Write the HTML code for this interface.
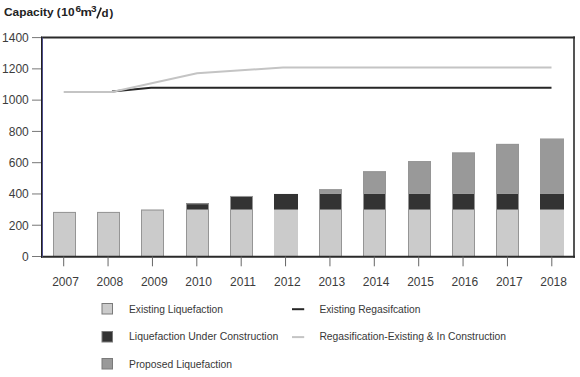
<!DOCTYPE html>
<html><head><meta charset="utf-8"><style>
html,body{margin:0;padding:0;background:#fff;width:580px;height:377px;overflow:hidden}
svg{display:block}
.t{font-family:"Liberation Sans",sans-serif;font-size:11.5px;fill:#383838}
.n{font-family:"Liberation Sans",sans-serif;font-size:12px;fill:#3c3c3c}
.title{font-family:"Liberation Sans",sans-serif;font-size:11.5px;font-weight:bold;fill:#222}
</style></head><body>
<svg width="580" height="377" viewBox="0 0 580 377">
<rect x="53.00" y="211.94" width="23.00" height="44.56" fill="#cbcbcb"/>
<rect x="53.50" y="212.44" width="22.00" height="44.06" fill="none" stroke="#959595" stroke-width="1"/>
<rect x="97.00" y="211.94" width="23.00" height="44.56" fill="#cbcbcb"/>
<rect x="97.50" y="212.44" width="22.00" height="44.06" fill="none" stroke="#959595" stroke-width="1"/>
<rect x="141.00" y="209.59" width="23.00" height="46.91" fill="#cbcbcb"/>
<rect x="141.50" y="210.09" width="22.00" height="46.41" fill="none" stroke="#959595" stroke-width="1"/>
<rect x="186.00" y="209.59" width="23.00" height="46.91" fill="#cbcbcb"/>
<rect x="186.00" y="203.34" width="23.00" height="6.25" fill="#333333"/>
<rect x="186.50" y="203.84" width="22.00" height="52.66" fill="none" stroke="#959595" stroke-width="1"/>
<rect x="230.00" y="209.59" width="23.00" height="46.91" fill="#cbcbcb"/>
<rect x="230.00" y="195.99" width="23.00" height="13.60" fill="#333333"/>
<rect x="230.50" y="196.49" width="22.00" height="60.01" fill="none" stroke="#959595" stroke-width="1"/>
<rect x="274.00" y="209.59" width="24.00" height="46.91" fill="#cbcbcb"/>
<rect x="274.00" y="193.96" width="24.00" height="15.64" fill="#333333"/>
<rect x="319.00" y="209.59" width="23.00" height="46.91" fill="#cbcbcb"/>
<rect x="319.00" y="193.96" width="23.00" height="15.64" fill="#333333"/>
<rect x="319.00" y="189.27" width="23.00" height="4.69" fill="#999999"/>
<rect x="319.50" y="189.77" width="22.00" height="66.73" fill="none" stroke="#959595" stroke-width="1"/>
<rect x="363.00" y="209.59" width="23.00" height="46.91" fill="#cbcbcb"/>
<rect x="363.00" y="193.96" width="23.00" height="15.64" fill="#333333"/>
<rect x="363.00" y="171.29" width="23.00" height="22.67" fill="#999999"/>
<rect x="363.50" y="171.79" width="22.00" height="84.71" fill="none" stroke="#959595" stroke-width="1"/>
<rect x="408.00" y="209.59" width="23.00" height="46.91" fill="#cbcbcb"/>
<rect x="408.00" y="193.96" width="23.00" height="15.64" fill="#333333"/>
<rect x="408.00" y="161.12" width="23.00" height="32.84" fill="#999999"/>
<rect x="408.50" y="161.62" width="22.00" height="94.88" fill="none" stroke="#959595" stroke-width="1"/>
<rect x="452.00" y="209.59" width="23.00" height="46.91" fill="#cbcbcb"/>
<rect x="452.00" y="193.96" width="23.00" height="15.64" fill="#333333"/>
<rect x="452.00" y="152.52" width="23.00" height="41.43" fill="#999999"/>
<rect x="452.50" y="153.02" width="22.00" height="103.48" fill="none" stroke="#959595" stroke-width="1"/>
<rect x="496.00" y="209.59" width="23.00" height="46.91" fill="#cbcbcb"/>
<rect x="496.00" y="193.96" width="23.00" height="15.64" fill="#333333"/>
<rect x="496.00" y="143.92" width="23.00" height="50.03" fill="#999999"/>
<rect x="496.50" y="144.42" width="22.00" height="112.08" fill="none" stroke="#959595" stroke-width="1"/>
<rect x="540.00" y="209.59" width="24.00" height="46.91" fill="#cbcbcb"/>
<rect x="540.00" y="193.96" width="24.00" height="15.64" fill="#333333"/>
<rect x="540.00" y="138.45" width="24.00" height="55.51" fill="#999999"/>
<polyline points="112,91.6 151,87.7 551.5,87.7" fill="none" stroke="#262626" stroke-width="2"/>
<polyline points="63.7,91.9 112,91.9 197,73.2 283,67.6 551.5,67.6" fill="none" stroke="#c4c4c4" stroke-width="2"/>
<path d="M574,36.60 V257.80" fill="none" stroke="#555" stroke-width="2"/>
<path d="M41,37.60 H575 M41,256.8 H575" fill="none" stroke="#2a2a2a" stroke-width="2"/>
<rect x="41" y="36.60" width="1" height="221.20" fill="#222"/>
<rect x="42" y="37.60" width="1" height="219.20" fill="#4c4c8a"/>
<line x1="32" y1="256.50" x2="41" y2="256.50" stroke="#777" stroke-width="1"/>
<text x="28.8" y="261.20" text-anchor="end" class="n">0</text>
<line x1="32" y1="225.23" x2="41" y2="225.23" stroke="#777" stroke-width="1"/>
<text x="28.8" y="229.81" text-anchor="end" class="n">200</text>
<line x1="32" y1="193.96" x2="41" y2="193.96" stroke="#777" stroke-width="1"/>
<text x="28.8" y="198.43" text-anchor="end" class="n">400</text>
<line x1="32" y1="162.69" x2="41" y2="162.69" stroke="#777" stroke-width="1"/>
<text x="28.8" y="167.04" text-anchor="end" class="n">600</text>
<line x1="32" y1="131.41" x2="41" y2="131.41" stroke="#777" stroke-width="1"/>
<text x="28.8" y="135.66" text-anchor="end" class="n">800</text>
<line x1="32" y1="100.14" x2="41" y2="100.14" stroke="#777" stroke-width="1"/>
<text x="28.8" y="104.27" text-anchor="end" class="n">1000</text>
<line x1="32" y1="68.87" x2="41" y2="68.87" stroke="#777" stroke-width="1"/>
<text x="28.8" y="72.89" text-anchor="end" class="n">1200</text>
<line x1="32" y1="37.60" x2="41" y2="37.60" stroke="#777" stroke-width="1"/>
<text x="28.8" y="41.50" text-anchor="end" class="n">1400</text>
<line x1="63.69" y1="256.50" x2="63.69" y2="266.3" stroke="#666" stroke-width="1"/>
<text x="65.49" y="285.9" text-anchor="middle" class="n">2007</text>
<line x1="108.06" y1="256.50" x2="108.06" y2="266.3" stroke="#666" stroke-width="1"/>
<text x="109.86" y="285.9" text-anchor="middle" class="n">2008</text>
<line x1="152.44" y1="256.50" x2="152.44" y2="266.3" stroke="#666" stroke-width="1"/>
<text x="154.24" y="285.9" text-anchor="middle" class="n">2009</text>
<line x1="196.81" y1="256.50" x2="196.81" y2="266.3" stroke="#666" stroke-width="1"/>
<text x="198.61" y="285.9" text-anchor="middle" class="n">2010</text>
<line x1="241.19" y1="256.50" x2="241.19" y2="266.3" stroke="#666" stroke-width="1"/>
<text x="242.99" y="285.9" text-anchor="middle" class="n">2011</text>
<line x1="285.56" y1="256.50" x2="285.56" y2="266.3" stroke="#666" stroke-width="1"/>
<text x="287.36" y="285.9" text-anchor="middle" class="n">2012</text>
<line x1="329.94" y1="256.50" x2="329.94" y2="266.3" stroke="#666" stroke-width="1"/>
<text x="331.74" y="285.9" text-anchor="middle" class="n">2013</text>
<line x1="374.31" y1="256.50" x2="374.31" y2="266.3" stroke="#666" stroke-width="1"/>
<text x="376.11" y="285.9" text-anchor="middle" class="n">2014</text>
<line x1="418.69" y1="256.50" x2="418.69" y2="266.3" stroke="#666" stroke-width="1"/>
<text x="420.49" y="285.9" text-anchor="middle" class="n">2015</text>
<line x1="463.06" y1="256.50" x2="463.06" y2="266.3" stroke="#666" stroke-width="1"/>
<text x="464.86" y="285.9" text-anchor="middle" class="n">2016</text>
<line x1="507.44" y1="256.50" x2="507.44" y2="266.3" stroke="#666" stroke-width="1"/>
<text x="509.24" y="285.9" text-anchor="middle" class="n">2017</text>
<line x1="551.81" y1="256.50" x2="551.81" y2="266.3" stroke="#666" stroke-width="1"/>
<text x="553.61" y="285.9" text-anchor="middle" class="n">2018</text>
<text x="4" y="16.4" class="title" textLength="49.5" lengthAdjust="spacingAndGlyphs">Capacity</text>
<text x="56.8" y="16.4" class="title">(</text>
<text x="61.3" y="16.4" class="title" textLength="13.2" lengthAdjust="spacingAndGlyphs">10</text>
<text x="75.6" y="11.8" class="title" style="font-size:9.5px" textLength="5.6" lengthAdjust="spacingAndGlyphs">6</text>
<text x="80.4" y="16.4" class="title" textLength="11.4" lengthAdjust="spacingAndGlyphs">m</text>
<text x="91" y="11.5" class="title" style="font-size:9.5px" textLength="5.6" lengthAdjust="spacingAndGlyphs">3</text>
<line x1="96.9" y1="18.4" x2="101.2" y2="7.6" stroke="#222" stroke-width="1.6"/>
<text x="101.6" y="16.6" class="title">d</text>
<text x="109.4" y="16.6" class="title">)</text>
<rect x="102" y="303.50" width="10.5" height="10.5" fill="#cbcbcb" stroke="#7a7a7a" stroke-width="1"/>
<rect x="102" y="331.50" width="10.5" height="10.5" fill="#333333" stroke="#7a7a7a" stroke-width="1"/>
<rect x="102" y="358.50" width="10.5" height="10.5" fill="#999999" stroke="#7a7a7a" stroke-width="1"/>
<text x="129" y="312.5" class="t" textLength="94" lengthAdjust="spacingAndGlyphs">Existing Liquefaction</text>
<text x="129" y="340.3" class="t" textLength="149.3" lengthAdjust="spacingAndGlyphs">Liquefaction Under Construction</text>
<text x="129" y="367.5" class="t" textLength="103" lengthAdjust="spacingAndGlyphs">Proposed Liquefaction</text>
<line x1="292" y1="309.2" x2="304.2" y2="309.2" stroke="#262626" stroke-width="2"/>
<line x1="292" y1="337.1" x2="304.2" y2="337.1" stroke="#c4c4c4" stroke-width="2"/>
<text x="319.4" y="312.5" class="t" textLength="101" lengthAdjust="spacingAndGlyphs">Existing Regasifcation</text>
<text x="319.4" y="340.2" class="t" textLength="186.6" lengthAdjust="spacingAndGlyphs">Regasification-Existing &amp; In Construction</text>
</svg>
</body></html>
